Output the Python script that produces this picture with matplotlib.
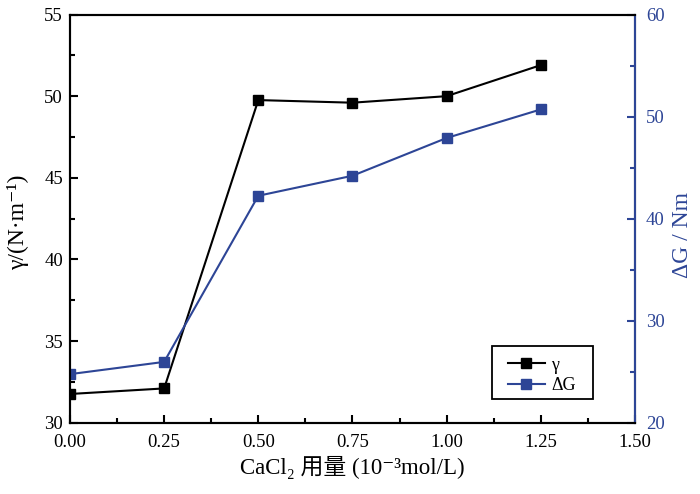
import matplotlib
matplotlib.use("Agg")
import matplotlib.pyplot as plt
from matplotlib.ticker import MultipleLocator, FormatStrFormatter
from matplotlib.patches import Rectangle

x = [0.00, 0.25, 0.50, 0.75, 1.00, 1.25]
gamma = [31.76, 32.1, 49.76, 49.6, 50.0, 51.9]
dG = [24.76, 25.96, 42.24, 44.2, 47.9, 50.7]

BLUE = "#2d4596"
plt.rcParams['font.family'] = ['Liberation Serif', 'Noto Sans CJK SC', 'DejaVu Sans']

fig = plt.figure(figsize=(7, 4.94), dpi=100)
ax = fig.add_axes([0.1, 0.1443, 0.807, 0.8263])
ax2 = ax.twinx()

l1, = ax.plot(x, gamma, color='black', lw=1.5, marker='s', ms=7, label='γ')
l2, = ax2.plot(x, dG, color=BLUE, lw=1.5, marker='s', ms=7, mfc=BLUE, mec=BLUE, label='ΔG')

ax.set_xlim(0, 1.5)
ax.set_ylim(30, 55)
ax2.set_ylim(20, 60)
ax.xaxis.set_major_locator(MultipleLocator(0.25))
ax.xaxis.set_minor_locator(MultipleLocator(0.125))
ax.xaxis.set_major_formatter(FormatStrFormatter('%.2f'))
ax.yaxis.set_major_locator(MultipleLocator(5))
ax.yaxis.set_minor_locator(MultipleLocator(2.5))
ax2.yaxis.set_major_locator(MultipleLocator(10))
ax2.yaxis.set_minor_locator(MultipleLocator(5))

for a in (ax, ax2):
    for s in a.spines.values():
        s.set_linewidth(1.5)
ax.tick_params(which='both', direction='in', labelsize=13.5, width=1.5, top=False)
ax.tick_params(which='major', length=6)
ax.tick_params(which='minor', length=3.5)
ax.tick_params(axis='x', which='both', pad=8)
ax.tick_params(axis='y', which='both', pad=5)
ax2.tick_params(which='both', direction='in', labelsize=13.5, width=1.5, colors=BLUE, pad=8)
ax2.tick_params(which='major', length=6)
ax2.tick_params(which='minor', length=3.5)
ax2.spines['right'].set_color(BLUE)

ax.set_xlabel('CaCl₂ 用量 (10⁻³mol/L)', fontsize=16.5, labelpad=4)
ax.set_ylabel('γ/(N·m⁻¹)', fontsize=17)
ax.yaxis.set_label_coords(-0.072, 0.49)
ax2.set_ylabel('ΔG / Nm', fontsize=17, color=BLUE)
ax2.yaxis.set_label_coords(1.066, 0.46)

ax.add_patch(Rectangle((0.747, 0.058), 0.179, 0.130, transform=ax.transAxes,
                       fill=False, edgecolor='black', lw=1.3, zorder=5))
leg = ax.legend(handles=[l1, l2], loc='upper left', bbox_to_anchor=(0.775, 0.162),
                borderaxespad=0, borderpad=0, fontsize=13, frameon=False,
                handlelength=2.05, labelspacing=0.2, handletextpad=0.35)

fig.savefig('out.png', dpi=100)
